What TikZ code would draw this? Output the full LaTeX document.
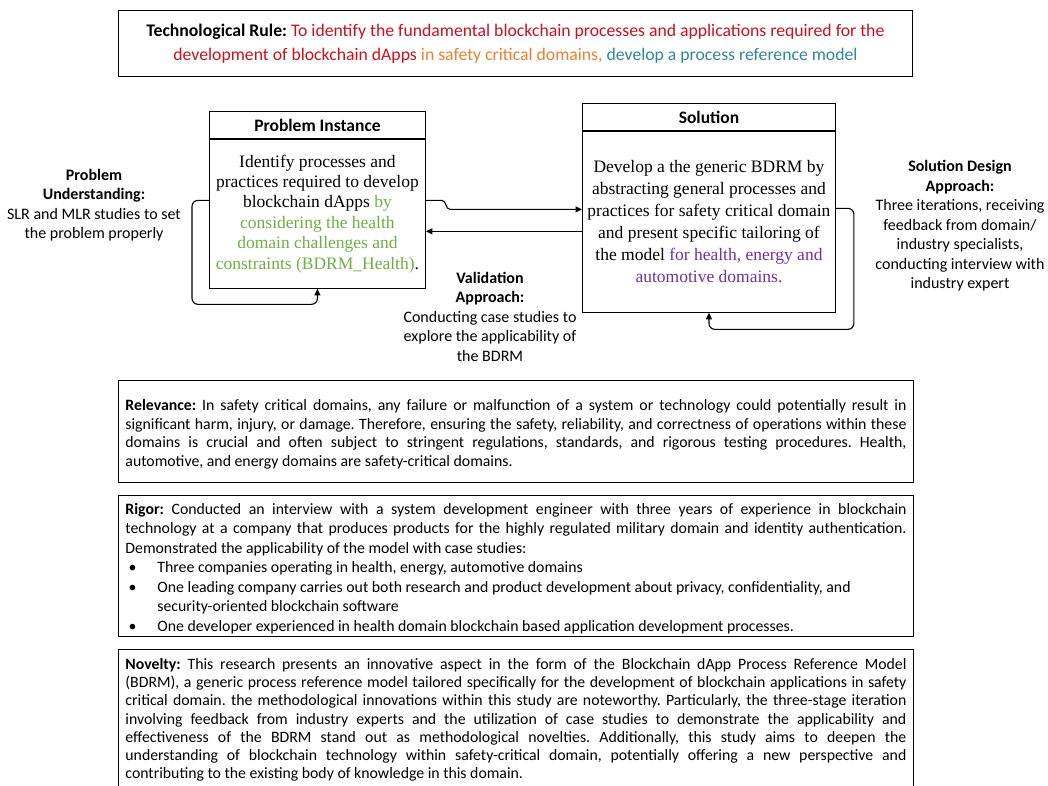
\documentclass[tikz,border=0pt]{standalone}
\usepackage{fontspec}
\setmainfont{Carlito}
\newfontfamily\bodyserif{Liberation Serif}
\usetikzlibrary{arrows.meta}

\definecolor{rulered}{RGB}{200,16,30}
\definecolor{ruleorange}{RGB}{237,125,49}
\definecolor{ruleteal}{RGB}{49,132,155}
\definecolor{healthgreen}{RGB}{112,173,71}
\definecolor{domainpurple}{RGB}{112,48,160}

\begin{document}
\frenchspacing
\begin{tikzpicture}[x=1pt,y=-1pt,
  frame/.style={draw=black, line width=0.9pt, inner sep=0pt},
  header/.style={frame, minimum height=27pt, font=\fontsize{17.5}{20}\selectfont\bfseries},
  serifbody/.style={frame, align=center, font=\bodyserif\fontsize{17.5}{20.4}\selectfont},
  sidelabel/.style={align=center, inner sep=0pt, font=\fontsize{16}{19.5}\selectfont},
  infobox/.style={frame, inner xsep=7pt, inner ysep=0pt, text width=781pt, align=justify},
  link/.style={line width=1.1pt, -{Triangle[length=6.5pt,width=6pt]}},
  loop/.style={link, rounded corners=6pt}]
\useasboundingbox (0,0) rectangle (1048,785);

% technological rule
\node[frame, anchor=north west, minimum width=794pt, minimum height=66pt,
  align=center, font=\fontsize{17.7}{24}\selectfont] (rule) at (118,10)
  {\rule{0pt}{4pt}\textbf{Technological Rule:} \textcolor{rulered}{To identify the fundamental blockchain processes and applications required for the}\\
   \textcolor{rulered}{development of blockchain dApps} \textcolor{ruleorange}{in safety critical domains,} \textcolor{ruleteal}{develop a process reference model}};

% problem instance
\node[header, anchor=north west, minimum width=216pt] (phead) at (209,111) {Problem Instance};
\node[serifbody, anchor=north, minimum width=216pt, minimum height=149pt] (pbody) at (phead.south)
  {Identify processes and\\
   practices required to develop\\
   blockchain dApps \textcolor{healthgreen}{by}\\
   \textcolor{healthgreen}{considering the health}\\
   \textcolor{healthgreen}{domain challenges and}\\
   \textcolor{healthgreen}{constraints (BDRM\_Health)}.};

% solution
\node[header, anchor=north west, minimum width=253pt] (shead) at (582,103) {Solution};
\node[serifbody, anchor=north, minimum width=253pt, minimum height=181pt,
  font=\bodyserif\fontsize{17.5}{22}\selectfont] (sbody) at (shead.south)
  {Develop a the generic BDRM by\\
   abstracting general processes and\\
   practices for safety critical domain\\
   and present specific tailoring of\\
   the model \textcolor{domainpurple}{for health, energy and}\\
   \textcolor{domainpurple}{automotive domains.}};

% approach labels
\node[sidelabel] (understanding) at (94,205)
  {\textbf{Problem}\\ \textbf{Understanding:}\\ SLR and MLR studies to set\\ the problem properly};
\node[sidelabel] (design) at (960,226)
  {\textbf{Solution Design}\\ \textbf{Approach:}\\ Three iterations, receiving\\ feedback from domain/\\ industry specialists,\\ conducting interview with\\ industry expert};
\node[sidelabel] (validation) at (490,316.5)
  {\textbf{Validation}\\ \textbf{Approach:}\\ Conducting case studies to\\ explore the applicability of\\ the BDRM};

% connectors
\draw[link] ([yshift=13.5pt]pbody.east) -- ++(16,0) to[out=0,in=180] ++(8,9)
  -- ([yshift=12.5pt]sbody.west);
\coordinate (back) at ([yshift=-9.5pt]sbody.west);
\draw[link] (back) -- (back -| pbody.east);
\draw[loop] ([yshift=13.5pt]pbody.west) -- ++(-17,0) -- ++(0,104) -| (pbody.south);
\draw[loop] ([yshift=13.5pt]sbody.east) -- ++(18,0) -- ++(0,121) -| (sbody.south);

% relevance (box height = text height + text depth)
\node[infobox, anchor=north west, text height=30pt, text depth=72pt,
  font=\fontsize{15.8}{18.6}\selectfont] (relevance) at (118,380)
  {\tolerance=9999 \textbf{Relevance:} In safety critical domains, any failure or malfunction of a system or technology could potentially result in\linebreak
   significant harm, injury, or damage. Therefore, ensuring the safety, reliability, and correctness of operations within these\linebreak
   domains is crucial and often subject to stringent regulations, standards, and rigorous testing procedures. Health,\linebreak
   automotive, and energy domains are safety-critical domains.};

% rigor
\node[infobox, anchor=north west, text height=19pt, text depth=122pt,
  font=\fontsize{15.8}{19.5}\selectfont] (rigor) at (118,495)
  {\tolerance=9999 \textbf{Rigor:} Conducted an interview with a system development engineer with three years of experience in blockchain\linebreak
   technology at a company that produces products for the highly regulated military domain and identity authentication.\linebreak
   Demonstrated the applicability of the model with case studies:\par
   {\raggedright\leftskip=32pt
   \noindent\llap{\textbullet\hspace{21pt}}Three companies operating in health, energy, automotive domains\par
   \noindent\llap{\textbullet\hspace{21pt}}One leading company carries out both research and product development about privacy, confidentiality, and\\
   security-oriented blockchain software\par
   \noindent\llap{\textbullet\hspace{21pt}}One developer experienced in health domain blockchain based application development processes.\par}};

% novelty (runs past the lower edge)
\node[infobox, anchor=north west, text height=20pt, text depth=130pt,
  font=\fontsize{15.8}{18.2}\selectfont] (novelty) at (118,649)
  {\tolerance=9999 \textbf{Novelty:} This research presents an innovative aspect in the form of the Blockchain dApp Process Reference Model\linebreak
   (BDRM), a generic process reference model tailored specifically for the development of blockchain applications in safety\linebreak
   critical domain. the methodological innovations within this study are noteworthy. Particularly, the three-stage iteration\linebreak
   involving feedback from industry experts and the utilization of case studies to demonstrate the applicability and\linebreak
   effectiveness of the BDRM stand out as methodological novelties. Additionally, this study aims to deepen the\linebreak
   understanding of blockchain technology within safety-critical domain, potentially offering a new perspective and\linebreak
   contributing to the existing body of knowledge in this domain.};
\end{tikzpicture}
\end{document}
